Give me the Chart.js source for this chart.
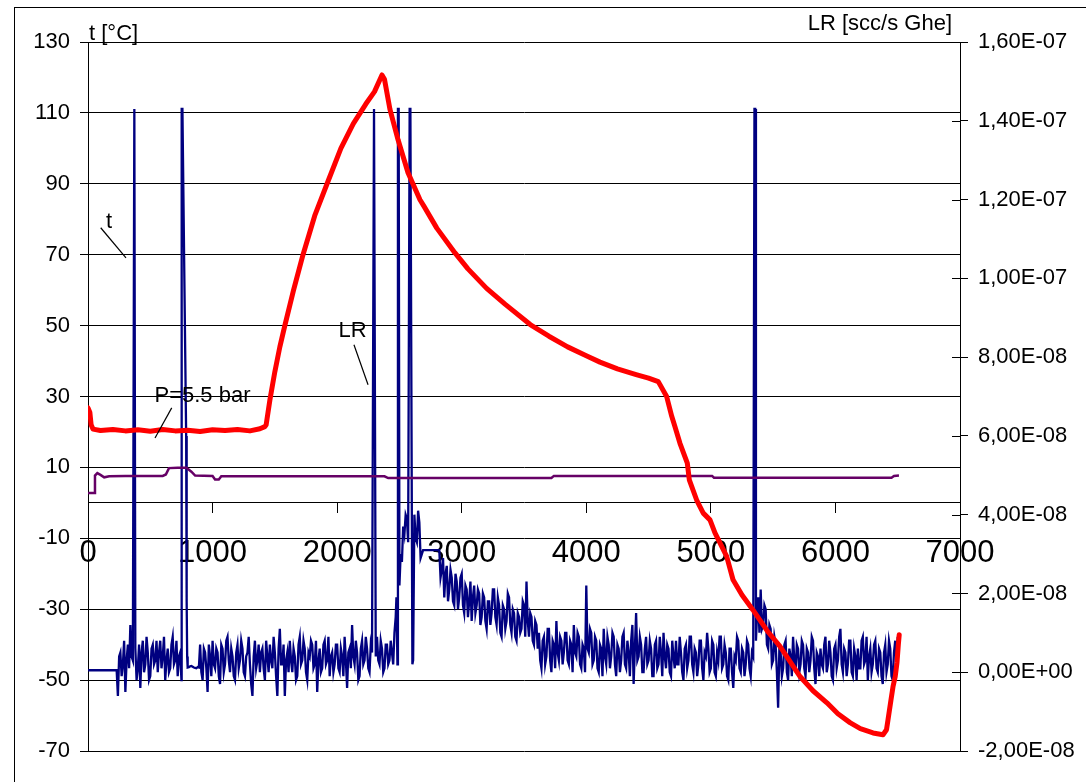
<!DOCTYPE html>
<html>
<head>
<meta charset="utf-8">
<script src="https://cdn.jsdelivr.net/npm/chart.js@4.4.1/dist/chart.umd.min.js"></script>
<style>
  html, body { margin: 0; padding: 0; background: #fff; overflow: hidden; }
  canvas { display: block; }
</style>
</head>
<body>
<canvas id="chart" width="1086" height="782"></canvas>
<script>
// Temperature t [°C] (left axis) <------------------------------------------->
const tempTime = [0, 15, 25, 40, 100, 200, 300, 400, 500, 600, 700, 800, 900, 1000, 1100, 1200, 1300, 1380, 1420,
    1430, 1460, 1500, 1540, 1580, 1650, 1726, 1820, 1930, 2030, 2130, 2230, 2300, 2360, 2380, 2424, 2489, 2569, 2665,
    2700, 2800, 2946, 3050, 3200, 3350, 3550, 3700, 3850, 4000, 4110, 4250, 4400, 4500, 4578, 4645, 4686, 4712, 4752,
    4811, 4827, 4886, 4939, 4993, 5033, 5127, 5178, 5250, 5338, 5450, 5555, 5716, 5820, 5932, 6020, 6117, 6200, 6302,
    6382, 6410, 6422, 6446, 6462, 6480, 6494, 6505, 6512];
const tempValue = [26.8, 25.5, 22, 20.8, 20.4, 20.7, 20.3, 20.6, 20.2, 20.7, 20.3, 20.5, 20.1, 20.6, 20.4, 20.7, 20.3, 20.9, 21.5,
    22, 29, 37, 44, 50, 60, 70, 81, 91, 100, 107, 112.5, 116, 120.7, 119.5, 111, 102.4, 93.1, 85.5,
    83.5, 77.5, 70.5, 66, 60.5, 56, 50.3, 47, 44, 41.5, 39.7, 37.8, 36.2, 35.2, 34.2, 30, 24.4, 21.5, 16.8,
    11.2, 6.5, 0.8, -2.9, -4.8, -8.5, -15.1, -21.7, -26, -30.2, -36, -40.5, -49, -53, -56.4, -59.5, -62, -63.7, -64.9,
    -65.4, -64, -61.2, -55.6, -51.9, -49, -45.1, -40, -37.2];

// Pressure trace (P=5.5 bar), left axis <------------------------------------>
const pressTime = [0, 50, 56, 75, 100, 130, 170, 300, 600, 625, 650, 720, 790, 830, 860, 1000, 1020, 1050, 1070,
    2380, 2410, 3720, 3740, 5010, 5025, 6450, 6470, 6510];
const pressValue = [2.8, 2.8, 7.7, 8.4, 7.9, 7.2, 7.5, 7.6, 7.6, 8.0, 9.8, 9.9, 9.9, 8.8, 7.7, 7.6, 6.6, 6.6, 7.5,
    7.5, 7.0, 7.0, 7.6, 7.6, 7.1, 7.1, 7.6, 7.7];

// Leak rate LR, in 1E-09 scc/s Ghe, one reading every lrStep seconds (null = no reading)
const lrStep = 10;
const lrValues = [
    0.5, 0.5, 0.5, 0.5, 0.5, 0.5, 0.5, 0.5, 0.5, 0.5, 0.5, 0.5, 0.5, 0.5, 0.5, 0.5, 0.5, 0.5, 0.5, 0.5,   // 0
    0.5, 0.5, 0.5, 0.5, -6, 4, 5, -1, 2, 8, -5, 3, 7, 1, 12, 4, 3, null, 6, -2,                         // 200
    1, 7, -4, 5, 8, 0, 2, 9, 5, -2, -1, 6, 7, 2, 3, 8, 0, 5, 8, 1,                                      // 400
    4, 9, -2, 3, 6, 0, 1, 7, 9, 2, 3, 8, -1, 4, 5, -2, null, null, null, null,                          // 600
    1.2, 1.3, 1.5, 1.6, 1.4, 1.2, 1.1, 1.0, 1.3, 1.2, 7, 0, -2, 6, 5, 1, -5, 7, 4, -1,                  // 800
    8, 2, 1, 6, 5, -1, -3, 7, 6, 0, 2, 8, 9, 3, 0, 6, 4, -1, -2, 5,                                     // 1000
    7, 1, 3, 8, 6, 0, -1, 4, 5, 9, 2, -3, -6, 4, 8, 1, 3, 7, 0, 5,                                      // 1200
    6, 1, -2, 8, 4, 0, 7, 3, 1, 9, 5, -1, -6, 6, 11, 2, 2, 7, -6, 3,                                    // 1400
    5, 0, 8, 3, 0, 6, 4, -2, -1, 7, 9, 2, 3, 8, 6, 0, -2, 5, 4, 8,                                      // 1600
    7, 1, 2, 8, -5, 3, 6, 0, 1, 7, 8, 2, 3, 9, -1, 4, 5, 0, 2, 7,                                       // 1800
    7, 1, 0, 6, 4, -1, 9, 3, -4, 5, 6, 1, 12, 4, 2, 8, 5, -2, -1, 6,                                    // 2000
    8, 2, 3, 9, 6, 1, 0, 7, 5, null, null, 4, 9, 3, 2, 8, 6, 0, 1, 7,                                   // 2200
    7, 2, 3, 8, 5, 2, 10, 14, null, null, 22, 30, 28, 37, 35, 40, 39, 33, null, null,                   // 2400
    null, null, 40, 34, 33, 41, 38, 29, 30, 31, 31, 31, 31, 31, 31, 31, 31, 31, 31, 31,                 // 2600
    31, 31, 31, 24, 26, 29, 19, 25, 27, 18, 21, 26, 24, 18, 17, 25, 23, 16, 19, 24,                     // 2800
    25, 17, 15, 22, 21, 14, 18, 23, 13, 19, 22, 15, 17, 21, 20, 12, 14, 20, 19, 13,                     // 3000
    11, 18, 18, 12, 15, 21, 21, 14, 12, 19, 17, 10, 9, 17, 16, 11, 13, 20, 19, 12,                      // 3200
    10, 16, 15, 9, 8, 15, 14, 10, 11, 18, 17, 9, 23, 13, 9, 15, 14, 8, 7, 13,                           // 3400
    12, 6, 10, 3, 1, 8, 9, 2, 4, 11, 11, 3, 0, 8, 7, 1, 13, 5, 3, 9,                                    // 3600
    8, 2, 5, 10, 10, 3, 2, 8, 7, 0, 12, 5, 4, 10, 9, 2, 1, 7, 6, 0,                                     // 3800
    22, 6, 5, 11, 10, 2, 3, 9, 8, 1, 0, 7, 6, -1, 11, 4, 2, 9, 7, 1,                                    // 4000
    4, 10, 9, 2, -1, 7, 6, 0, 3, 9, 10, 2, 1, 8, 5, -1, 8, 12, -3, 6,                                   // 4200
    15, 3, 4, 9, 7, 0, 0, 6, 9, 2, 3, 8, 6, -1, -1, 7, 8, 1, 2, 9,                                      // 4400
    5, -1, 10, 4, 1, 7, 6, 0, -1, 8, 4, 1, 8, 2, 2, 9, 5, 0, -2, 6,                                     // 4600
    7, 1, 3, 9, 9, 2, 0, 6, 5, -1, 2, 8, 8, 1, -2, 5, 4, 10, 6, 0,                                      // 4800
    1, 8, 7, 0, -1, 5, 3, 9, 9, 1, 2, 7, 5, -1, -2, 6, 6, 0, -4, 4,                                     // 5000
    3, 9, 8, 1, 0, 6, 5, -1, 2, 8, 7, 1, -1, 5, 4, null, null, 14, 19, 10,                              // 5200
    21, 11, 12, 17, 16, 7, 6, 12, 11, 2, 3, 9, 7, 0, -9, 6, 5, -1, 1, 7,                                // 5400
    8, 0, -2, 6, 4, -1, 9, 3, 0, 7, 6, 0, 2, 8, 7, 1, -1, 6, 5, 0,                                      // 5600
    3, 9, 8, 1, -3, 5, 4, -1, 6, 2, 1, 7, 9, 0, 2, 8, 5, -1, -2, 6,                                     // 5800
    7, 1, 3, 9, 11, 2, 0, 6, 5, -1, 2, 8, 8, 0, -1, 6, 4, -2, 6, 1,                                     // 6000
    1, 8, 9, 2, 3, 9, -2, 4, 6, 0, 2, 7, 8, 1, 0, 6, 5, -1, -3, 5,                                      // 6200
    7, 0, 2, 8, 6, -1, -2, 5, 8, 3, 9                                                                   // 6400
];
// extra LR readings between the regular ones (the saturated spikes)
const lrExtraTime = [372, 376, 752, 758, 788, 792, 796, 2296, 2302, 2476, 2484, 2488, 2494,
    2582, 2588, 2604, 2610, 5350, 5356, 5362];
const lrExtraValue = [143, 143, 143, 143, 60, 18, 4, 143, 143, 19, 2, 143, 143,
    143, 143, 2, 3, 143, 143, 8];

// Text notes on the plot, placed in data units (x in s, y in °C)
const notes = [
    { text: 't', x: 169, y: 77.6, from: [102, 77.6], to: [305, 69.1] },
    { text: 'LR', x: 2123, y: 46.8, from: [2135, 44.6], to: [2248, 33.3] },
    { text: 'P=5.5 bar', x: 919, y: 28.5, from: [672, 26.8], to: [538, 18.3] }
];

// Build the datasets <------------------------------------------------------>
const tempPoints = tempTime.map((t, i) => ({ x: t, y: tempValue[i] }));
const pressPoints = pressTime.map((t, i) => ({ x: t, y: pressValue[i] }));
const lrPoints = [];
lrValues.forEach((v, i) => { if (v !== null) lrPoints.push({ x: i * lrStep, y: v }); });
lrExtraTime.forEach((t, i) => lrPoints.push({ x: t, y: lrExtraValue[i] }));
lrPoints.sort((a, b) => a.x - b.x);

function formatLR(v) {
    // 1,60E-07 style labels
    return (v * 1e-9).toExponential(2).replace('.', ',').replace(/e([+-])(\d)$/, 'E$10$2');
}

const FONT = 'Liberation Sans, Arial, sans-serif';

const overlay = {
    id: 'overlay',
    beforeDraw(chart) {
        const c = chart.ctx;
        c.save();
        c.fillStyle = '#fff';
        c.fillRect(0, 0, chart.width, chart.height);
        c.strokeStyle = '#000';
        c.lineWidth = 1;
        c.strokeRect(14.5, 7.5, chart.width + 20, chart.height + 20);
        c.restore();
    },
    afterDraw(chart) {
        const c = chart.ctx;
        const area = chart.chartArea;
        const xs = chart.scales.x, ys = chart.scales.y;
        c.save();
        c.fillStyle = '#000';
        c.font = '22px ' + FONT;
        c.textBaseline = 'alphabetic';
        c.textAlign = 'left';
        c.fillText('t [°C]', area.left + 1, area.top - 2);
        c.textAlign = 'right';
        c.fillText('LR [scc/s Ghe]', area.right - 8, area.top - 12);

        // right axis ticks also reach into the plot a little
        const ry = chart.scales.y1;
        c.strokeStyle = '#000';
        c.lineWidth = 1;
        ry.ticks.forEach(t => {
            const py = Math.round(ry.getPixelForValue(t.value)) + 0.5;
            c.beginPath();
            c.moveTo(area.right - 8, py);
            c.lineTo(area.right, py);
            c.stroke();
        });

        c.textAlign = 'center';
        c.lineWidth = 1.2;
        notes.forEach(n => {
            c.fillText(n.text, xs.getPixelForValue(n.x), ys.getPixelForValue(n.y));
            c.beginPath();
            c.moveTo(xs.getPixelForValue(n.from[0]), ys.getPixelForValue(n.from[1]));
            c.lineTo(xs.getPixelForValue(n.to[0]), ys.getPixelForValue(n.to[1]));
            c.stroke();
        });
        c.restore();
    }
};

new Chart(document.getElementById('chart'), {
    type: 'line',
    data: {
        datasets: [
            {
                label: 't',
                data: tempPoints,
                yAxisID: 'y',
                borderColor: '#ff0000',
                borderWidth: 5,
                borderJoinStyle: 'round',
                borderCapStyle: 'round',
                pointRadius: 0,
                tension: 0
            },
            {
                label: 'P=5.5 bar',
                data: pressPoints,
                yAxisID: 'y',
                borderColor: '#660066',
                borderWidth: 2.5,
                pointRadius: 0,
                tension: 0
            },
            {
                label: 'LR',
                data: lrPoints,
                yAxisID: 'y1',
                borderColor: '#000080',
                borderWidth: 2.3,
                pointRadius: 0,
                tension: 0
            }
        ]
    },
    options: {
        responsive: false,
        devicePixelRatio: 1,
        animation: false,
        events: [],
        layout: { padding: { top: 42, bottom: 31, left: 0, right: 0 } },
        plugins: {
            legend: { display: false },
            tooltip: { enabled: false }
        },
        scales: {
            x: {
                type: 'linear',
                position: { y: 0 },
                min: 0,
                max: 7000,
                grid: { drawOnChartArea: false, drawTicks: true, tickLength: 10, color: '#000' },
                border: { display: true, color: '#000', width: 1 },
                ticks: {
                    stepSize: 1000,
                    autoSkip: false,
                    maxRotation: 0,
                    padding: 22,
                    color: '#000',
                    font: { family: FONT, size: 31 },
                    callback: v => String(v)
                }
            },
            y: {
                type: 'linear',
                position: 'left',
                min: -70,
                max: 130,
                afterFit(scale) { scale.width = 88; },
                grid: { color: '#000', lineWidth: 1, tickLength: 8 },
                border: { display: true, color: '#000', width: 1 },
                ticks: {
                    stepSize: 20,
                    padding: 10,
                    color: '#000',
                    font: { family: FONT, size: 22 }
                }
            },
            y1: {
                type: 'linear',
                position: 'right',
                min: -20,
                max: 160,
                afterFit(scale) { scale.width = 126; },
                grid: { drawOnChartArea: false, color: '#000', tickLength: 8 },
                border: { display: true, color: '#000', width: 1 },
                ticks: {
                    stepSize: 20,
                    padding: 10,
                    color: '#000',
                    font: { family: FONT, size: 22 },
                    callback: formatLR
                }
            }
        }
    },
    plugins: [overlay]
});
</script>
</body>
</html>
